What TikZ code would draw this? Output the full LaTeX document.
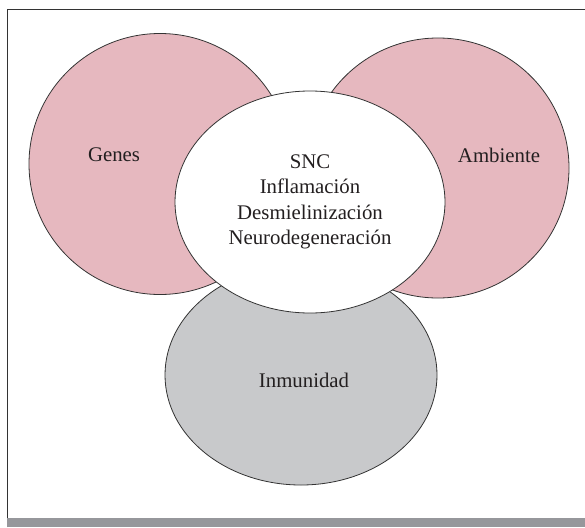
\documentclass[tikz,border=0pt]{standalone}
\usepackage{fontspec}
\setmainfont{Liberation Serif}
\usetikzlibrary{shapes.geometric}
\definecolor{pinkfill}{HTML}{E6B8BF}
\definecolor{grayfill}{HTML}{C8C9CB}
\definecolor{barfill}{HTML}{96979B}
\definecolor{edge}{HTML}{333333}
\definecolor{txt}{HTML}{231F20}
\tikzset{
  blob/.style={ellipse, draw=edge, line width=0.8pt, inner sep=0pt},
  lbl/.style={text=txt, font=\fontsize{20.8}{25.5}\selectfont, align=center, inner sep=0pt}
}
\begin{document}
\begin{tikzpicture}[x=1pt,y=-1pt]
\useasboundingbox (0,0) rectangle (585,527);
% frame
\draw[edge, line width=0.9pt] (7.5,527) -- (7.5,9.5) -- (585,9.5);
\fill[barfill] (7,518) rectangle (585,527);
% circles
\node[blob, fill=pinkfill, minimum width=262pt, minimum height=261pt] (genes) at (160,164) {};
\node[blob, fill=pinkfill, minimum width=262pt, minimum height=260pt] (amb) at (438,168) {};
\node[blob, fill=grayfill, minimum width=272pt, minimum height=220pt] (inm) at (301,375) {};
\node[blob, fill=white, minimum width=270pt, minimum height=222pt] (snc) at (310,202) {};
% labels
\node[lbl] (tgenes) at (114,155) {Genes};
\node[lbl] (tamb) at (499,155) {Ambiente};
\node[lbl] (tinm) at (304,380) {Inmunidad};
\node[lbl] (tsnc) at (310,202) {SNC\\Inflamación\\Desmielinización\\Neurodegeneración};
\end{tikzpicture}
\end{document}
